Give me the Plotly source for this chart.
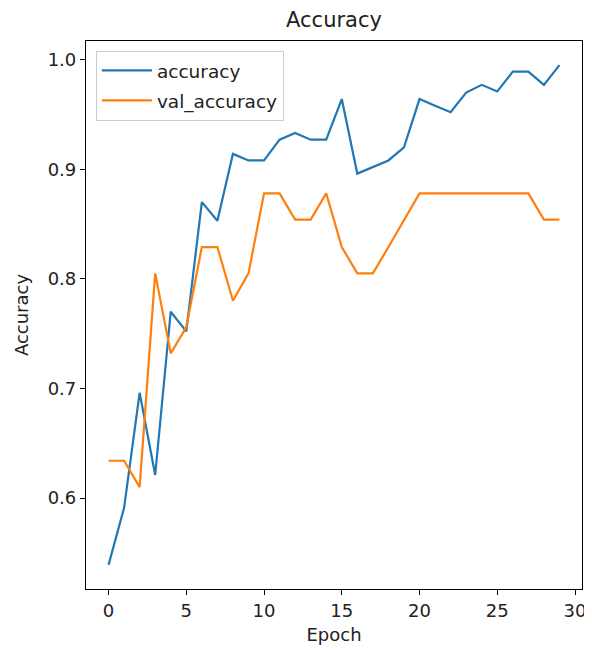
import plotly.graph_objects as go

# values
epochs = list(range(30))
accuracy = [0.539, 0.591, 0.696, 0.621, 0.770, 0.752, 0.870, 0.853, 0.914, 0.908,
            0.908, 0.927, 0.933, 0.927, 0.927, 0.964, 0.896, 0.902, 0.908, 0.920,
            0.964, 0.958, 0.952, 0.970, 0.977, 0.971, 0.989, 0.989, 0.977, 0.995]
val_accuracy = [0.634, 0.634, 0.610, 0.805, 0.732, 0.756, 0.829, 0.829, 0.780, 0.805,
                0.878, 0.878, 0.854, 0.854, 0.878, 0.829, 0.805, 0.805, 0.829, 0.854,
                0.878, 0.878, 0.878, 0.878, 0.878, 0.878, 0.878, 0.878, 0.854, 0.854]
x_ticks = [0, 5, 10, 15, 20, 25, 30]
y_ticks = [0.6, 0.7, 0.8, 0.9, 1.0]

font = 'DejaVu Sans, sans-serif'
txt = '#222222'

# the page body has an 8px margin, so the figure is 8px smaller than the window
W, H = 584, 644

fig = go.Figure()
fig.add_trace(go.Scatter(x=epochs, y=accuracy, mode='lines', name='accuracy',
                         legendgroup='a', line=dict(color='#1f77b4', width=2.2)))
fig.add_trace(go.Scatter(x=epochs, y=val_accuracy, mode='lines', name='val_accuracy',
                         legendgroup='b', line=dict(color='#ff7f0e', width=2.2)))

# matplotlib-like axes: box, outside ticks, no grid
axis_style = dict(showgrid=False, zeroline=False, showline=True, mirror=True,
                  linecolor='black', linewidth=1.2, ticks='outside', ticklen=5,
                  tickcolor='black', tickfont=dict(size=18, color=txt))

fig.update_layout(
    width=W,
    height=H,
    title=dict(text='Accuracy', x=0.5, xref='paper', xanchor='center',
               y=1 - 12 / H, yref='container', yanchor='middle',
               font=dict(size=21, color=txt)),
    font=dict(family=font, color=txt),
    plot_bgcolor='white',
    paper_bgcolor='white',
    margin=dict(l=78, r=6, t=33, b=63),
    legend=dict(x=0.02, y=0.982, xanchor='left', yanchor='top',
                bgcolor='white', bordercolor='#cccccc', borderwidth=1,
                font=dict(size=18.5, color=txt), tracegroupgap=3, itemwidth=50),
    xaxis=dict(title=dict(text='Epoch', font=dict(size=18, color=txt), standoff=8),
               range=[-1.45, 30.45], tickvals=x_ticks, **axis_style),
    yaxis=dict(title=dict(text='Accuracy', font=dict(size=18, color=txt), standoff=14),
               range=[0.517, 1.017], tickvals=y_ticks, tickformat='.1f', **axis_style),
)

fig.write_html("out.html")
